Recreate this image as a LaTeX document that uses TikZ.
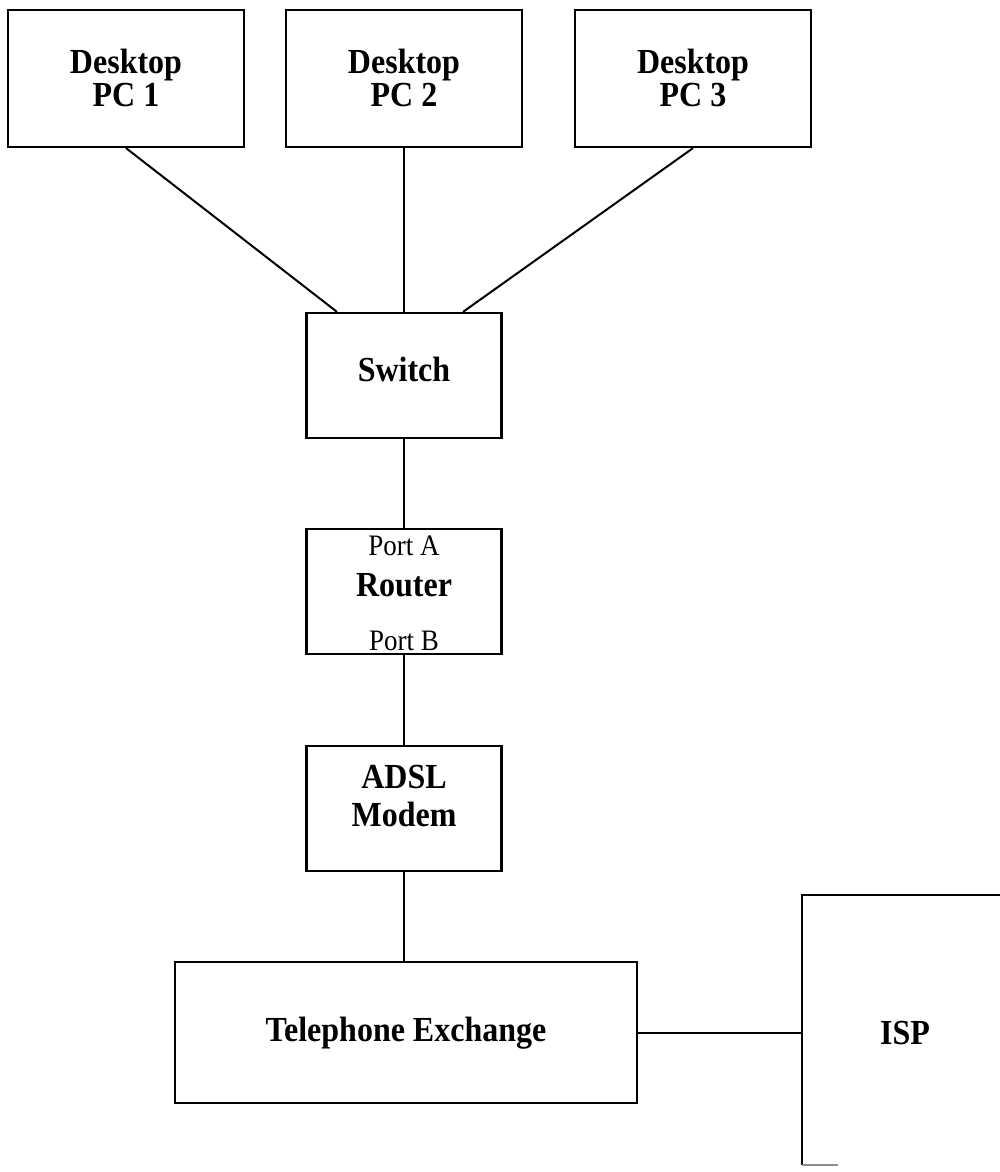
\documentclass[tikz,border=0pt]{standalone}
\usepackage{fontspec}
\usepackage{graphicx}
\setmainfont{Liberation Serif}
\usetikzlibrary{calc}
\newcommand\tallstack[1]{\scalebox{1}[1.1]{\begin{tabular}{@{}c@{}}#1\end{tabular}}}
\begin{document}
\begin{tikzpicture}[x=0.5pt,y=-0.5pt,
  box/.style={draw,line width=1.1pt,inner sep=0pt},
  pcbox/.style={box,minimum width=118pt,minimum height=68.5pt},
  devbox/.style={box,minimum width=97.5pt,minimum height=62.5pt},
  lbl/.style={font=\fontsize{16}{15}\selectfont\bfseries,align=center,inner sep=0pt},
  portlbl/.style={font=\fontsize{13.5}{14}\selectfont,inner sep=0pt},
  wire/.style={line width=1pt}]
\useasboundingbox (0,0) rectangle (1000,1172);
% desktop PCs
\node[pcbox] (pc1) at (126,78.5) {};
\node[pcbox] (pc2) at (404,78.5) {};
\node[pcbox] (pc3) at (693,78.5) {};
\node[lbl] (pc1txt) at (126,83) {\tallstack{Desktop\\PC 1}};
\node[lbl] (pc2txt) at (404,83) {\tallstack{Desktop\\PC 2}};
\node[lbl] (pc3txt) at (693,83) {\tallstack{Desktop\\PC 3}};
% switch
\node[devbox] (sw) at (404,375.5) {};
\node[lbl] (swtxt) at (404,374) {\tallstack{Switch}};
% router
\node[devbox] (rt) at (404,591.5) {};
\node[portlbl] (porta) at (404,549) {\tallstack{Port A}};
\node[lbl] (rttxt) at (404,590) {\tallstack{Router}};
\node[portlbl] (portb) at (404,644) {\tallstack{Port B}};
% modem
\node[devbox] (md) at (404,808.5) {};
\node[lbl,font=\fontsize{16}{17.5}\selectfont\bfseries] (mdtxt) at (404,800) {\tallstack{ADSL\\Modem}};
% telephone exchange
\node[box,minimum width=231pt,minimum height=70.5pt] (te) at (406,1032.5) {};
\node[lbl] (tetxt) at (406,1034) {\tallstack{Telephone Exchange}};
% ISP (partly cut off)
\coordinate (ispw) at (802,1032.5);
\draw[line width=1.1pt] (1002,895) -- (802,895) -- (802,1165);
\draw[line width=1pt,black!45] (802,1165) -- (838,1165);
\node[lbl] (isp) at (905,1038) {\tallstack{ISP}};
% connectors
\draw[wire] (pc1.south) -- ($(sw.north)+(-67,0)$);
\draw[wire] (pc2.south) -- (sw.north);
\draw[wire] (pc3.south) -- ($(sw.north)+(59,0)$);
\draw[wire] (sw.south) -- (rt.north);
\draw[wire] (rt.south) -- (md.north);
\draw[wire] (md.south) -- (te.north -| md.south);
\draw[wire] (te.east) -- (ispw);
\end{tikzpicture}
\end{document}
